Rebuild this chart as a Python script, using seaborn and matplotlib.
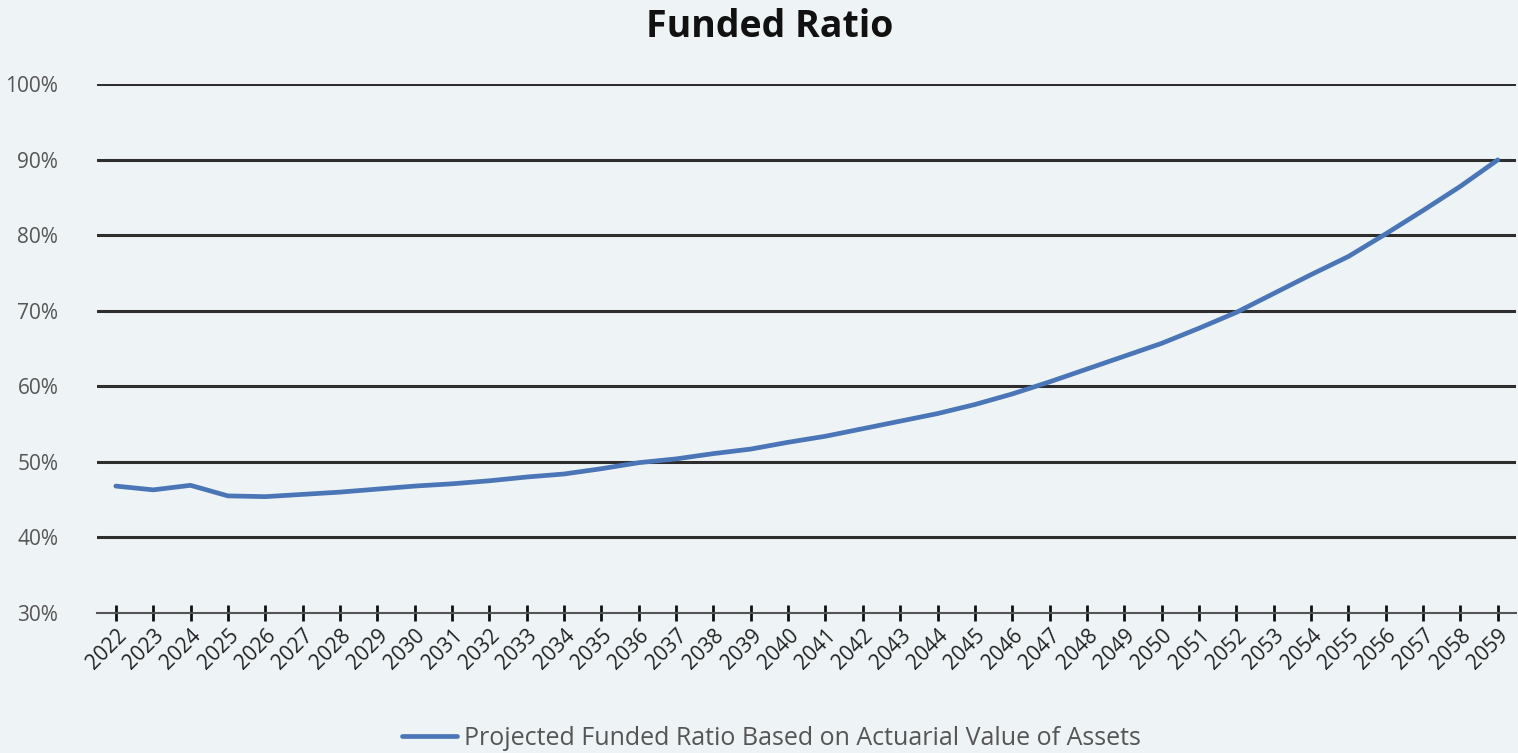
import matplotlib
matplotlib.use("Agg")
import matplotlib.pyplot as plt
import seaborn as sns
import pandas as pd
from matplotlib.ticker import FuncFormatter

years = [str(y) for y in range(2022, 2060)]
funded_ratio = [46.8, 46.3, 46.9, 45.5, 45.4, 45.7, 46.0, 46.4, 46.8, 47.1,
                47.5, 48.0, 48.4, 49.1, 49.9, 50.4, 51.1, 51.7, 52.6, 53.4,
                54.4, 55.4, 56.4, 57.6, 59.0, 60.6, 62.3, 64.0, 65.7, 67.7,
                69.8, 72.3, 74.8, 77.2, 80.2, 83.3, 86.5, 90.0]
series_name = "Projected Funded Ratio Based on Actuarial Value of Assets"
title = "Funded Ratio"
y_ticks = [30, 40, 50, 60, 70, 80, 90, 100]

df = pd.DataFrame({"Year": years, "Ratio": funded_ratio, "Series": series_name})

sns.set_theme(style="white")
plt.rcParams['font.family'] = ['Open Sans', 'DejaVu Sans']

bg = "#eef4f5"
fig = plt.figure(figsize=(15.18, 7.53), dpi=100, facecolor=bg)
ax = fig.add_axes([0.064, 0.186, 0.935, 0.702])
ax.set_facecolor(bg)

sns.lineplot(data=df, x="Year", y="Ratio", hue="Series", palette=["#4a76b8"],
             linewidth=3.4, ax=ax, sort=False)

ax.set_ylim(30, 100)
ax.set_xlim(-0.5, len(years) - 0.5)
ax.set_yticks(y_ticks)
ax.yaxis.set_major_formatter(FuncFormatter(lambda v, p: f"{int(v)}%"))
for yv in y_ticks[1:]:
    ax.axhline(yv, color="#2e2e2e", linewidth=2.2, zorder=0)

for s in ["top", "right", "left"]:
    ax.spines[s].set_visible(False)
ax.spines["bottom"].set_color("#555555")
ax.spines["bottom"].set_linewidth(1.5)

ax.tick_params(axis="y", length=0, labelsize=15, labelcolor="#555555", pad=28)
ax.tick_params(axis="x", bottom=True, direction="inout", length=11, width=2,
               color="#111111", labelsize=15, labelcolor="#222222", pad=3)
plt.setp(ax.get_xticklabels(), rotation=45, ha="right", rotation_mode="anchor")
ax.set_xlabel("")
ax.set_ylabel("")

fig.suptitle(title, x=0.507, y=0.99, fontsize=27, fontweight="bold", color="#111111")

leg = ax.legend(loc="upper center", bbox_to_anchor=(0.475, -0.195), frameon=False,
                fontsize=18, handlelength=2.2, handletextpad=0.3,
                borderaxespad=0.0)
for t in leg.get_texts():
    t.set_color("#555555")

fig.savefig("out.png", dpi=100, facecolor=bg)
